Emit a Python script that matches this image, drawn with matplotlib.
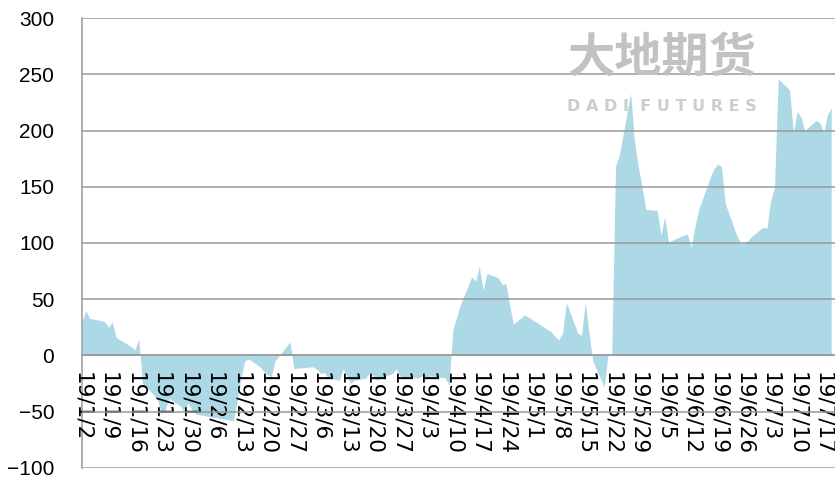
import pandas as pd
import matplotlib
matplotlib.use('Agg')
import matplotlib.pyplot as plt

# daily spread values
dates = ['2019-01-02', '2019-01-03', '2019-01-04', '2019-01-07', '2019-01-08', '2019-01-09',
         '2019-01-10', '2019-01-11', '2019-01-14', '2019-01-15', '2019-01-16', '2019-01-17',
         '2019-01-18', '2019-01-21', '2019-01-22', '2019-01-23', '2019-01-24', '2019-01-25',
         '2019-01-28', '2019-01-29', '2019-01-30', '2019-01-31', '2019-02-01', '2019-02-11',
         '2019-02-12', '2019-02-13', '2019-02-14', '2019-02-15', '2019-02-18', '2019-02-19',
         '2019-02-20', '2019-02-21', '2019-02-22', '2019-02-25', '2019-02-26', '2019-02-27',
         '2019-02-28', '2019-03-01', '2019-03-04', '2019-03-05', '2019-03-06', '2019-03-07',
         '2019-03-08', '2019-03-11', '2019-03-12', '2019-03-13', '2019-03-14', '2019-03-15',
         '2019-03-18', '2019-03-19', '2019-03-20', '2019-03-21', '2019-03-22', '2019-03-25',
         '2019-03-26', '2019-03-27', '2019-03-28', '2019-03-29', '2019-04-01', '2019-04-02',
         '2019-04-03', '2019-04-04', '2019-04-08', '2019-04-09', '2019-04-10', '2019-04-11',
         '2019-04-12', '2019-04-15', '2019-04-16', '2019-04-17', '2019-04-18', '2019-04-19',
         '2019-04-22', '2019-04-23', '2019-04-24', '2019-04-25', '2019-04-26', '2019-04-29',
         '2019-04-30', '2019-05-06', '2019-05-07', '2019-05-08', '2019-05-09', '2019-05-10',
         '2019-05-13', '2019-05-14', '2019-05-15', '2019-05-16', '2019-05-17', '2019-05-20',
         '2019-05-21', '2019-05-22', '2019-05-23', '2019-05-24', '2019-05-27', '2019-05-28',
         '2019-05-29', '2019-05-30', '2019-05-31', '2019-06-03', '2019-06-04', '2019-06-05',
         '2019-06-06', '2019-06-10', '2019-06-11', '2019-06-12', '2019-06-13', '2019-06-14',
         '2019-06-17', '2019-06-18', '2019-06-19', '2019-06-20', '2019-06-21', '2019-06-24',
         '2019-06-25', '2019-06-26', '2019-06-27', '2019-06-28', '2019-07-01', '2019-07-02',
         '2019-07-03', '2019-07-04', '2019-07-05', '2019-07-08', '2019-07-09', '2019-07-10',
         '2019-07-11', '2019-07-12', '2019-07-15', '2019-07-16', '2019-07-17', '2019-07-18',
         '2019-07-19']
values = [30, 40, 33, 31, 30, 25,
          30, 16, 10, 8, 5, 15,
          -25, -35, -40, -52, -48, -38,
          -45, -50, -42, -48, -52, -58,
          -40, -20, -5, -3, -10, -14,
          -17, -19, -5, 8, 12, -12,
          -11, -11, -10, -12, -16, -15,
          -20, -22, -12, -18, -25, -22,
          -20, -15, -18, -22, -20, -16,
          -12, -18, -20, -19, -20, -18,
          -20, -18, -20, -27, 23, 34,
          45, 70, 66, 79, 58, 73,
          69, 63, 64, 45, 28, 36,
          34, 21, 17, 14, 20, 47,
          20, 18, 47, 20, -5, -28,
          0, 1, 168, 178, 233, 190,
          168, 150, 130, 129, 107, 123,
          101, 107, 108, 96, 115, 130,
          158, 166, 170, 168, 135, 107,
          100, 100, 102, 106, 114, 113,
          138, 149, 246, 236, 198, 217,
          212, 200, 209, 207, 198, 214,
          220]

x = pd.to_datetime(dates)
ticks = pd.date_range('2019-01-02', '2019-07-17', freq='7D')
tick_labels = [f'{d.year % 100}/{d.month}/{d.day}' for d in ticks]

fig = plt.figure(figsize=(8.35, 4.79), dpi=100)
ax = fig.add_axes([0.0982, 0.023, 0.9018, 0.9394])

# faint company watermark
fig.text(0.679, 0.878, '大地期货', fontsize=34, color='#c2c2c2', fontweight='bold',
         family=['Noto Sans CJK SC', 'DejaVu Sans'], ha='left', va='center', zorder=0)
fig.text(0.679, 0.778, 'D A D I  F U T U R E S', fontsize=11.5, color='#cdcdcd', fontweight='bold',
         ha='left', va='center', zorder=0)
ax.patch.set_alpha(0)

ax.fill_between(x, values, 0, color='#add8e6', linewidth=0, zorder=2)

ax.set_ylim(-100, 300)
ax.set_yticks(range(-100, 301, 50))
ax.set_xlim(pd.Timestamp('2019-01-02'), pd.Timestamp('2019-07-20'))
ax.set_xticks(ticks)
ax.set_xticklabels(tick_labels)

ax.grid(axis='y', color='#9a9a9a', linewidth=1.1, zorder=3)
ax.set_axisbelow(False)

for s in ['top', 'right']:
    ax.spines[s].set_visible(False)
ax.spines['left'].set_color('#9a9a9a')
ax.spines['left'].set_linewidth(1.1)
ax.spines['bottom'].set_position(('data', 0))
ax.spines['bottom'].set_color('#9a9a9a')
ax.spines['bottom'].set_linewidth(1.1)

ax.tick_params(axis='y', length=0, pad=20, labelsize=15)
ax.tick_params(axis='x', length=0, pad=12, labelsize=15.5, labelrotation=270)
for lab in ax.get_yticklabels():
    lab.set_family('Liberation Sans')
for lab in ax.get_xticklabels():
    lab.set_family('DejaVu Sans')
    lab.set_ha('center')
    lab.set_va('top')

fig.savefig('out.png', dpi=100)
